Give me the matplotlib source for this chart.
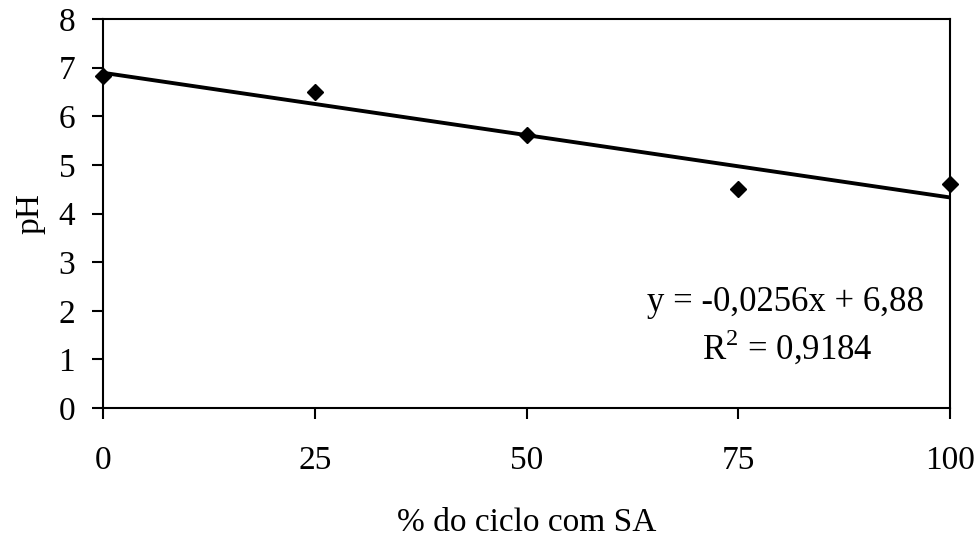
import numpy as np
import matplotlib.pyplot as plt

plt.rcParams['font.family'] = ['Liberation Serif', 'DejaVu Serif']
plt.rcParams['mathtext.fontset'] = 'custom'
plt.rcParams['mathtext.rm'] = 'Liberation Serif'

# data
ciclo_sa = [0, 25, 50, 75, 100]
ph = [6.82, 6.50, 5.62, 4.51, 4.61]
eq_text = "y = -0,0256x + 6,88"
r2_text = "R$^2$ = 0,9184"

fig = plt.figure(figsize=(9.78, 5.37), dpi=100)
ax = fig.add_axes([0.1053, 0.2402, 0.8661, 0.7244])

# linear trend line
coef = np.polyfit(ciclo_sa, ph, 1)
xs = np.array([0, 100])
ax.plot(xs, np.polyval(coef, xs), color='black', lw=2.8, zorder=2)
ax.plot(ciclo_sa, ph, 'D', color='black', ms=8.5, zorder=3, clip_on=False)

ax.set_xlim(0, 100)
ax.set_ylim(0, 8)
ax.set_xticks([0, 25, 50, 75, 100])
ax.set_yticks(range(0, 9))
for s in ax.spines.values():
    s.set_linewidth(1.5)
ax.tick_params(axis='both', direction='out', length=8, width=1.5, labelsize=24)
ax.tick_params(axis='x', pad=19)
ax.tick_params(axis='y', pad=12)

ax.set_xlabel("% do ciclo com SA", fontsize=24)
ax.xaxis.set_label_coords(0.5, -0.255)
ax.set_ylabel("pH", fontsize=24)
ax.yaxis.set_label_coords(-0.068, 0.5)

ax.text(80.6, 2.18, eq_text, fontsize=25, ha='center', va='center')
ax.text(80.8, 1.24, r2_text, fontsize=25, ha='center', va='center')

fig.savefig("out.png", dpi=100)
